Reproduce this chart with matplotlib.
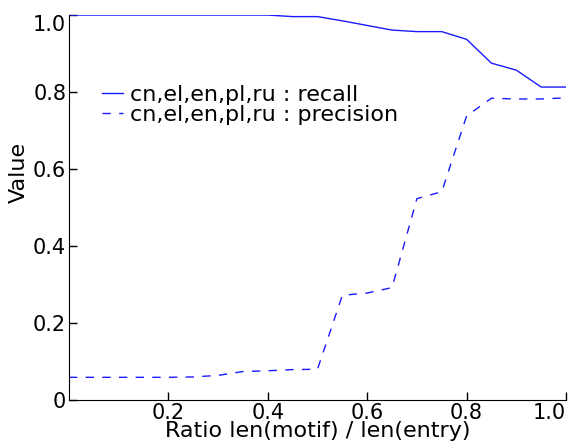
import matplotlib
matplotlib.use("Agg")
import matplotlib.pyplot as plt

# ratio len(motif) / len(entry)
ratio = [0.0, 0.05, 0.1, 0.15, 0.2, 0.25, 0.3, 0.35, 0.4, 0.45, 0.5,
         0.55, 0.6, 0.65, 0.7, 0.75, 0.8, 0.85, 0.9, 0.95, 1.0]
recall = [1.0, 1.0, 1.0, 1.0, 1.0, 1.0, 1.0, 1.0, 1.0, 0.996, 0.996,
          0.985, 0.973, 0.961, 0.957, 0.957, 0.937, 0.875, 0.857, 0.813, 0.813]
precision = [0.059, 0.059, 0.059, 0.059, 0.059, 0.060, 0.064, 0.074, 0.076, 0.079, 0.080,
             0.272, 0.278, 0.292, 0.523, 0.541, 0.738, 0.784, 0.782, 0.782, 0.785]

label_prefix = "cn,el,en,pl,ru"
xticks = [0.2, 0.4, 0.6, 0.8, 1.0]
yticks = [0, 0.2, 0.4, 0.6, 0.8, 1.0]
ytick_labels = ["0", "0.2", "0.4", "0.6", "0.8", "1.0"]

fig = plt.figure(figsize=(5.7, 4.43), dpi=100)
ax = fig.add_axes([0.121, 0.097, 0.872, 0.869])

ax.plot(ratio, recall, color="#1a1aff", lw=1.0, label=f"{label_prefix} : recall")
ax.plot(ratio, precision, color="#1a1aff", lw=1.0, dashes=(6, 6),
        label=f"{label_prefix} : precision")

ax.set_xlim(0, 1.0)
ax.set_ylim(0, 1.0)
ax.set_xticks(xticks)
ax.set_xticklabels([f"{t:.1f}" for t in xticks])
ax.set_yticks(yticks)
ax.set_yticklabels(ytick_labels)

for side in ["top", "right"]:
    ax.spines[side].set_visible(False)
ax.tick_params(direction="in", length=6, width=1, labelsize=15, pad=2,
               top=False, right=False)

# keep the outermost tick labels inside the figure
ax.get_xticklabels()[-1].set_horizontalalignment("right")
ax.get_yticklabels()[-1].set_verticalalignment("top")

ax.set_xlabel("Ratio len(motif) / len(entry)", fontsize=16, labelpad=-1.5)
ax.set_ylabel("Value", fontsize=16)
ax.yaxis.set_label_coords(-0.08, 0.59)

ax.legend(loc="center left", bbox_to_anchor=(0.066, 0.766), frameon=False,
          fontsize=16, handlelength=0.95, handletextpad=0.3, borderpad=0,
          labelspacing=0.0, borderaxespad=0)

fig.savefig("out.png", dpi=100)
